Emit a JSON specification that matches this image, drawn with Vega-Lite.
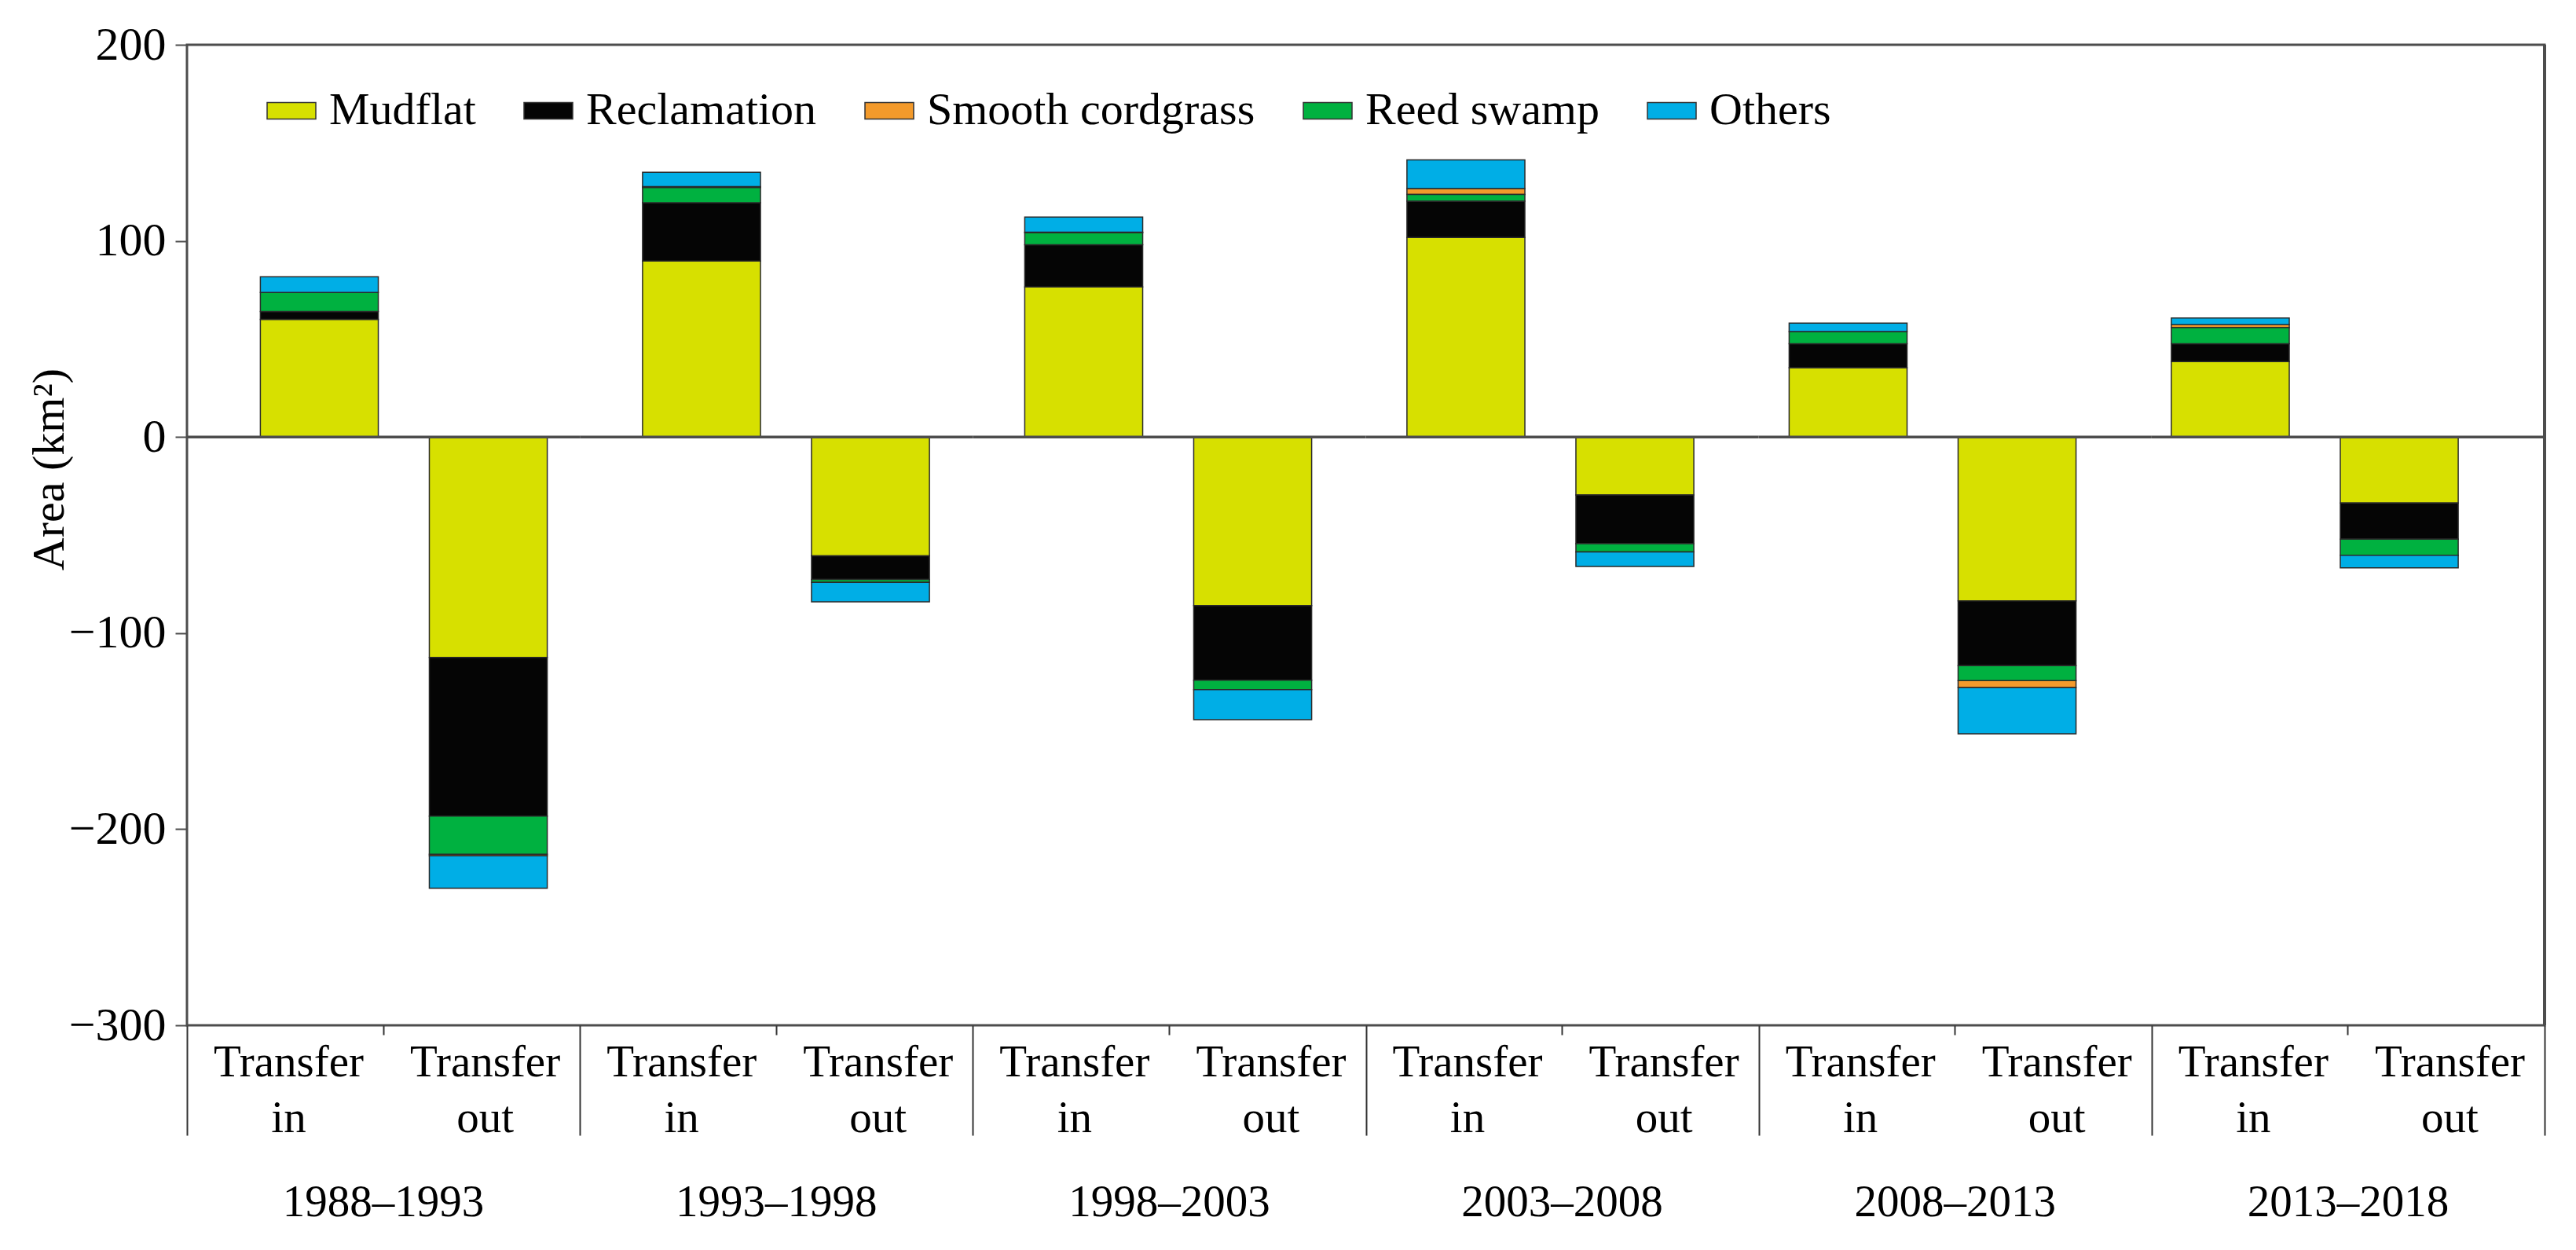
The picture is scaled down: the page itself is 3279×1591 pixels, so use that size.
{
  "$schema": "https://vega.github.io/schema/vega-lite/v6.json",
  "autosize": {"type": "none"},
  "padding": {"left": 238, "top": 57, "right": 40, "bottom": 286},
  "width": 3001,
  "height": 1248,
  "background": "white",
  "config": {
    "font": "Liberation Serif",
    "view": {"stroke": "#4d4d4d", "strokeWidth": 3},
    "axis": {"grid": false, "labelFont": "Liberation Serif", "titleFont": "Liberation Serif", "labelColor": "black", "titleColor": "black", "labelLimit": 0}
  },
  "datasets": {
    "flows": [
      {"period": "1988–1993", "dir": "in", "class": "Mudflat", "area": 60},
      {"period": "1988–1993", "dir": "in", "class": "Reclamation", "area": 4},
      {"period": "1988–1993", "dir": "in", "class": "Smooth cordgrass", "area": 0},
      {"period": "1988–1993", "dir": "in", "class": "Reed swamp", "area": 9.7},
      {"period": "1988–1993", "dir": "in", "class": "Others", "area": 8},
      {"period": "1988–1993", "dir": "out", "class": "Mudflat", "area": -112.4},
      {"period": "1988–1993", "dir": "out", "class": "Reclamation", "area": -80.9},
      {"period": "1988–1993", "dir": "out", "class": "Smooth cordgrass", "area": -0.8},
      {"period": "1988–1993", "dir": "out", "class": "Reed swamp", "area": -19.5},
      {"period": "1988–1993", "dir": "out", "class": "Others", "area": -16.5},
      {"period": "1993–1998", "dir": "in", "class": "Mudflat", "area": 89.7},
      {"period": "1993–1998", "dir": "in", "class": "Reclamation", "area": 29.8},
      {"period": "1993–1998", "dir": "in", "class": "Smooth cordgrass", "area": 0.5},
      {"period": "1993–1998", "dir": "in", "class": "Reed swamp", "area": 7.7},
      {"period": "1993–1998", "dir": "in", "class": "Others", "area": 7.3},
      {"period": "1993–1998", "dir": "out", "class": "Mudflat", "area": -60.6},
      {"period": "1993–1998", "dir": "out", "class": "Reclamation", "area": -12},
      {"period": "1993–1998", "dir": "out", "class": "Smooth cordgrass", "area": 0},
      {"period": "1993–1998", "dir": "out", "class": "Reed swamp", "area": -1.5},
      {"period": "1993–1998", "dir": "out", "class": "Others", "area": -10},
      {"period": "1998–2003", "dir": "in", "class": "Mudflat", "area": 76.5},
      {"period": "1998–2003", "dir": "in", "class": "Reclamation", "area": 21.5},
      {"period": "1998–2003", "dir": "in", "class": "Smooth cordgrass", "area": 0.3},
      {"period": "1998–2003", "dir": "in", "class": "Reed swamp", "area": 6.1},
      {"period": "1998–2003", "dir": "in", "class": "Others", "area": 7.8},
      {"period": "1998–2003", "dir": "out", "class": "Mudflat", "area": -86},
      {"period": "1998–2003", "dir": "out", "class": "Reclamation", "area": -38},
      {"period": "1998–2003", "dir": "out", "class": "Smooth cordgrass", "area": 0},
      {"period": "1998–2003", "dir": "out", "class": "Reed swamp", "area": -4.8},
      {"period": "1998–2003", "dir": "out", "class": "Others", "area": -15.4},
      {"period": "2003–2008", "dir": "in", "class": "Mudflat", "area": 101.7},
      {"period": "2003–2008", "dir": "in", "class": "Reclamation", "area": 18.6},
      {"period": "2003–2008", "dir": "in", "class": "Smooth cordgrass", "area": 3},
      {"period": "2003–2008", "dir": "in", "class": "Reed swamp", "area": 3.4},
      {"period": "2003–2008", "dir": "in", "class": "Others", "area": 14.6},
      {"period": "2003–2008", "dir": "out", "class": "Mudflat", "area": -29.6},
      {"period": "2003–2008", "dir": "out", "class": "Reclamation", "area": -24.8},
      {"period": "2003–2008", "dir": "out", "class": "Smooth cordgrass", "area": 0},
      {"period": "2003–2008", "dir": "out", "class": "Reed swamp", "area": -4.2},
      {"period": "2003–2008", "dir": "out", "class": "Others", "area": -7.4},
      {"period": "2008–2013", "dir": "in", "class": "Mudflat", "area": 35.3},
      {"period": "2008–2013", "dir": "in", "class": "Reclamation", "area": 12.3},
      {"period": "2008–2013", "dir": "in", "class": "Smooth cordgrass", "area": 0},
      {"period": "2008–2013", "dir": "in", "class": "Reed swamp", "area": 6.2},
      {"period": "2008–2013", "dir": "in", "class": "Others", "area": 4.3},
      {"period": "2008–2013", "dir": "out", "class": "Mudflat", "area": -83.6},
      {"period": "2008–2013", "dir": "out", "class": "Reclamation", "area": -33},
      {"period": "2008–2013", "dir": "out", "class": "Smooth cordgrass", "area": -3.6},
      {"period": "2008–2013", "dir": "out", "class": "Reed swamp", "area": -7.6},
      {"period": "2008–2013", "dir": "out", "class": "Others", "area": -23.6},
      {"period": "2013–2018", "dir": "in", "class": "Mudflat", "area": 38.4},
      {"period": "2013–2018", "dir": "in", "class": "Reclamation", "area": 9.2},
      {"period": "2013–2018", "dir": "in", "class": "Smooth cordgrass", "area": 1.5},
      {"period": "2013–2018", "dir": "in", "class": "Reed swamp", "area": 8.2},
      {"period": "2013–2018", "dir": "in", "class": "Others", "area": 3.4},
      {"period": "2013–2018", "dir": "out", "class": "Mudflat", "area": -33.7},
      {"period": "2013–2018", "dir": "out", "class": "Reclamation", "area": -18.4},
      {"period": "2013–2018", "dir": "out", "class": "Smooth cordgrass", "area": 0},
      {"period": "2013–2018", "dir": "out", "class": "Reed swamp", "area": -8.2},
      {"period": "2013–2018", "dir": "out", "class": "Others", "area": -6.4}
    ],
    "periods": [
      {"period": "1988–1993"},
      {"period": "1993–1998"},
      {"period": "1998–2003"},
      {"period": "2003–2008"},
      {"period": "2008–2013"},
      {"period": "2013–2018"}
    ]
  },
  "resolve": {"scale": {"x": "independent"}, "axis": {"x": "independent", "y": "independent"}},
  "layer": [
    {
      "data": {"name": "flows"},
      "transform": [
        {"calculate": "indexof(['Mudflat','Reclamation','Reed swamp','Smooth cordgrass','Others'], datum['class'])", "as": "stackOrder"}
      ],
      "mark": {"type": "bar", "stroke": "#2a2a2a", "strokeWidth": 1.5},
      "encoding": {
        "x": {"field": "period", "type": "nominal", "scale": {"type": "band", "paddingInner": 0, "paddingOuter": 0.0843}, "axis": null},
        "xOffset": {"field": "dir", "type": "nominal", "scale": {"domain": ["in", "out"], "paddingInner": 0.302, "paddingOuter": 0.282, "align": 0.432}},
        "y": {
          "field": "area", "type": "quantitative", "stack": "zero",
          "scale": {"domain": [-300, 200], "nice": false, "zero": false},
          "axis": {
            "orient": "left",
            "values": [-300, -200, -100, 0, 100, 200],
            "domain": false, "grid": false,
            "tickSize": 15, "tickWidth": 2, "tickColor": "#4d4d4d",
            "labelFont": "Liberation Serif", "labelFontSize": 60, "labelPadding": 12, "labelColor": "black",
            "title": "Area (km²)", "titleFont": "Liberation Serif", "titleFontSize": 58, "titleFontWeight": "normal", "titleColor": "black",
            "titleX": -175, "titleY": 540, "titleAngle": -90, "titleAlign": "center", "titleBaseline": "middle"
          }
        },
        "color": {
          "field": "class", "type": "nominal",
          "scale": {
            "domain": ["Mudflat", "Reclamation", "Smooth cordgrass", "Reed swamp", "Others"],
            "range": ["#d7e000", "#050505", "#f39a2b", "#00b140", "#00aee6"]
          },
          "legend": {
            "orient": "none", "legendX": 101, "legendY": 52, "direction": "horizontal", "columns": 5,
            "title": null, "labelFont": "Liberation Serif", "labelFontSize": 58, "labelColor": "black",
            "symbolType": "M-1,-0.34H1V0.34H-1Z", "symbolSize": 3844,
            "symbolStrokeColor": "#333333", "symbolStrokeWidth": 1.5, "symbolOpacity": 1,
            "columnPadding": 58, "labelOffset": 16, "labelLimit": 0
          }
        },
        "order": {"field": "stackOrder", "type": "quantitative"}
      }
    },
    {
      "data": {"name": "periods"},
      "mark": {"type": "rule", "color": "#4d4d4d", "strokeWidth": 3.5},
      "encoding": {
        "x": {
          "field": "period", "type": "nominal", "bandPosition": 0,
          "scale": {"type": "band", "paddingInner": 0, "paddingOuter": 0},
          "axis": {
            "orient": "bottom",
            "title": null, "domain": false, "grid": false, "labelAngle": 0,
            "ticks": true, "tickSize": 12, "tickWidth": 2, "tickColor": "#333333",
            "labelFont": "Liberation Serif", "labelFontSize": 57, "labelPadding": 185
          }
        },
        "x2": {"field": "period", "bandPosition": 1},
        "y": {"datum": 0, "type": "quantitative", "axis": null}
      }
    },
    {
      "data": {"name": "periods"},
      "mark": {"type": "rule", "color": "#4d4d4d", "strokeWidth": 3},
      "encoding": {
        "x": {
          "datum": 6, "type": "quantitative",
          "scale": {"domain": [0, 6], "nice": false, "zero": false},
          "axis": {
            "orient": "bottom",
            "title": null, "domain": false, "grid": false,
            "values": [0, 0.25, 0.75, 1, 1.25, 1.75, 2, 2.25, 2.75, 3, 3.25, 3.75, 4, 4.25, 4.75, 5, 5.25, 5.75, 6],
            "tickSize": 140, "tickWidth": 2, "tickColor": "#333333",
            "tickOpacity": {"condition": {"test": "datum.value % 1 === 0", "value": 1}, "value": 0},
            "labelExpr": "datum.value % 1 === 0 ? '' : ['Transfer', datum.value % 1 < 0.5 ? 'in' : 'out']",
            "labelFont": "Liberation Serif", "labelFontSize": 57, "labelPadding": -121, "labelLineHeight": 71,
            "labelOffset": 4, "labelOverlap": false, "labelFlush": false, "labelBound": false, "labelAngle": 0
          }
        }
      }
    }
  ]
}
